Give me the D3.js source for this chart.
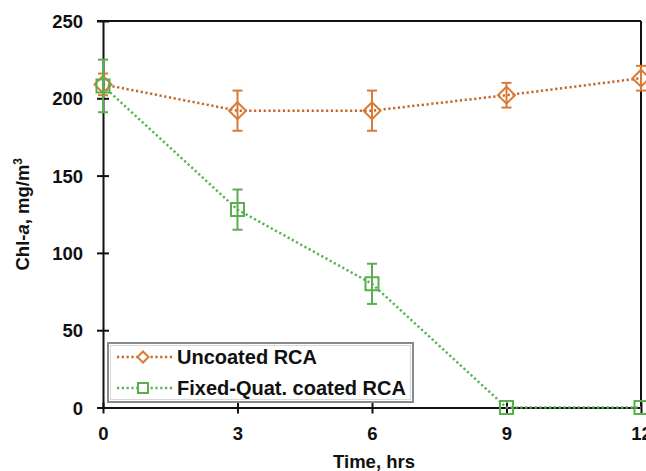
<!DOCTYPE html>
<html>
<head>
<meta charset="utf-8">
<script src="https://cdn.jsdelivr.net/npm/d3@7"></script>
<style>
  body { margin: 0; background: #fff; }
  svg text { font-family: "Liberation Sans", Arial, sans-serif; font-weight: bold; fill: #111; }
</style>
</head>
<body>
<div id="chart"></div>
<script>
var hours = [0, 3, 6, 9, 12];
var uncoated = [209, 192, 192, 202, 213];
var uncoated_err = [7, 13, 13, 8, 8];
var coated = [208, 128, 80, 0, 0];
var coated_err = [17, 13, 13, 0, 0];
var x_ticks = [0, 3, 6, 9, 12];
var y_ticks = [0, 50, 100, 150, 200, 250];
var series_names = ["Uncoated RCA", "Fixed-Quat. coated RCA"];

var width = 646, height = 471;
var plot_left = 103, plot_right = 641, plot_top = 21, plot_bottom = 407.5;

var orange_line = "#c4652a", orange_mark = "#db7a34";
var green_line = "#55b44f", green_mark = "#5aae4e";

var svg = d3.select("#chart").append("svg")
  .attr("width", width)
  .attr("height", height);

var x = d3.scaleLinear().domain([0, 12]).range([plot_left, plot_right]);
var y = d3.scaleLinear().domain([0, 250]).range([plot_bottom, plot_top]);

// frame
svg.append("line").attr("x1", plot_left - 6).attr("x2", plot_right).attr("y1", plot_top).attr("y2", plot_top)
  .attr("stroke", "#111").attr("stroke-width", 2);
svg.append("line").attr("x1", plot_right).attr("x2", plot_right).attr("y1", plot_top).attr("y2", plot_bottom)
  .attr("stroke", "#111").attr("stroke-width", 2);

// y axis
var yAxis = svg.append("g")
  .attr("transform", "translate(" + plot_left + ",0)")
  .call(d3.axisLeft(y).tickValues(y_ticks).tickSize(0).tickPadding(20));
yAxis.select(".domain").attr("stroke", "#111").attr("stroke-width", 2);
yAxis.selectAll(".tick text").style("font-size", "18.5px").attr("dy", "0.36em");
yAxis.selectAll(".tick").append("line")
  .attr("x1", -6).attr("x2", 6).attr("stroke", "#111").attr("stroke-width", 2);

// x axis
var xAxis = svg.append("g")
  .attr("transform", "translate(0," + plot_bottom + ")")
  .call(d3.axisBottom(x).tickValues(x_ticks).tickSize(0).tickPadding(19));
xAxis.select(".domain").attr("stroke", "#111").attr("stroke-width", 2);
xAxis.selectAll(".tick text").style("font-size", "18.5px");
xAxis.selectAll(".tick").append("line")
  .attr("y1", -5).attr("y2", 6).attr("stroke", "#111").attr("stroke-width", 2);

// axis titles
svg.append("text")
  .attr("x", (plot_left + plot_right) / 2 + 2)
  .attr("y", 468)
  .attr("text-anchor", "middle")
  .style("font-size", "18.5px")
  .text("Time, hrs");

var ylab = svg.append("text")
  .attr("transform", "translate(29," + ((plot_top + plot_bottom) / 2) + ") rotate(-90)")
  .attr("text-anchor", "middle")
  .style("font-size", "18.5px");
ylab.append("tspan").text("Chl-");
ylab.append("tspan").style("font-style", "italic").text("a");
ylab.append("tspan").text(", mg/m");
ylab.append("tspan").attr("dy", "-7").style("font-size", "12px").text("3");

function diamond(h) {
  return "M0," + (-h) + "L" + h + ",0L0," + h + "L" + (-h) + ",0Z";
}
function square(h) {
  return "M" + (-h) + "," + (-h) + "H" + h + "V" + h + "H" + (-h) + "Z";
}

function drawSeries(vals, errs, lineColor, markColor, shape) {
  var pts = hours.map(function (h, i) { return { h: h, v: vals[i], e: errs[i] }; });
  var g = svg.append("g");
  g.append("path")
    .datum(pts)
    .attr("fill", "none")
    .attr("stroke", lineColor)
    .attr("stroke-width", 2.5)
    .attr("stroke-dasharray", "2.2 2.6")
    .attr("d", d3.line().x(function (d) { return x(d.h); }).y(function (d) { return y(d.v); }));

  var eb = g.selectAll(".err").data(pts.filter(function (d) { return d.e > 0; })).enter().append("g");
  eb.append("line")
    .attr("x1", function (d) { return x(d.h); }).attr("x2", function (d) { return x(d.h); })
    .attr("y1", function (d) { return y(d.v + d.e); }).attr("y2", function (d) { return y(d.v - d.e); })
    .attr("stroke", markColor).attr("stroke-width", 2);
  [1, -1].forEach(function (s) {
    eb.append("line")
      .attr("x1", function (d) { return x(d.h) - 5; }).attr("x2", function (d) { return x(d.h) + 5; })
      .attr("y1", function (d) { return y(d.v + s * d.e); }).attr("y2", function (d) { return y(d.v + s * d.e); })
      .attr("stroke", markColor).attr("stroke-width", 2);
  });

  g.selectAll(".mark").data(pts).enter().append("path")
    .attr("transform", function (d) { return "translate(" + x(d.h) + "," + y(d.v) + ")"; })
    .attr("d", shape)
    .attr("fill", "none")
    .attr("stroke", markColor)
    .attr("stroke-width", 2);
}

drawSeries(uncoated, uncoated_err, orange_line, orange_mark, diamond(8.5));
drawSeries(coated, coated_err, green_line, green_mark, square(6.5));

// legend
var leg = svg.append("g");
leg.append("rect")
  .attr("x", 108).attr("y", 343).attr("width", 305).attr("height", 59)
  .attr("fill", "#fff").attr("stroke", "#8a8a8a").attr("stroke-width", 2);
leg.append("rect")
  .attr("x", 110.5).attr("y", 345.5).attr("width", 300).attr("height", 54)
  .attr("fill", "none").attr("stroke", "#d8d8d8").attr("stroke-width", 1);

var legColors = [[orange_line, orange_mark, diamond(5.5)], [green_line, green_mark, square(5)]];
series_names.forEach(function (name, i) {
  var cy = 357 + i * 31;
  leg.append("line")
    .attr("x1", 117).attr("x2", 172).attr("y1", cy).attr("y2", cy)
    .attr("stroke", legColors[i][0]).attr("stroke-width", 2.5)
    .attr("stroke-dasharray", "2.2 2.6");
  leg.append("path")
    .attr("transform", "translate(143," + cy + ")")
    .attr("d", legColors[i][2])
    .attr("fill", "#fff")
    .attr("stroke", legColors[i][1]).attr("stroke-width", 2);
  leg.append("text")
    .attr("x", 177).attr("y", cy + 7)
    .style("font-size", "20px")
    .text(name);
});
</script>
</body>
</html>
